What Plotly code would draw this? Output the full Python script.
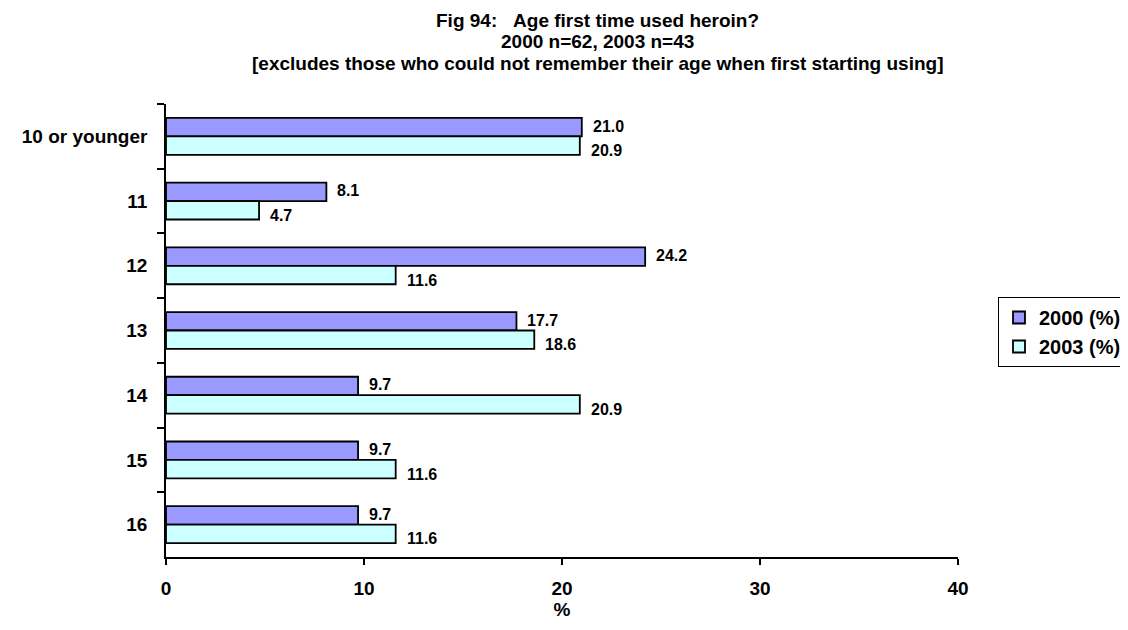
import plotly.graph_objects as go

categories = ["10 or younger", "11", "12", "13", "14", "15", "16"]
values_2000 = [21.0, 8.1, 24.2, 17.7, 9.7, 9.7, 9.7]
values_2003 = [20.9, 4.7, 11.6, 18.6, 20.9, 11.6, 11.6]
series_names = ["2000 (%)", "2003 (%)"]
title_lines = [
    "Fig 94:&nbsp;&nbsp;&nbsp;Age first time used heroin?",
    "2000 n=62, 2003 n=43",
    "[excludes those who could not remember their age when first starting using]",
]

FONT = "Liberation Sans, Arial, sans-serif"
colors = ["#9999FF", "#CCFFFF"]

# The page body has an 8px margin, so the figure is sized to fill the rest of the window.
W, H = 1120, 612

fig = go.Figure()
for name, vals, col in zip(series_names, [values_2000, values_2003], colors):
    fig.add_trace(go.Bar(
        y=categories, x=vals, name=name, orientation="h",
        marker=dict(color=col, line=dict(color="black", width=1.8)),
    ))

bargap = 0.43
half = (1 - bargap) / 4
annotations = []
for s, vals in enumerate([values_2000, values_2003]):
    off = -half if s == 0 else half
    ysh = 1 if s == 0 else -5
    for i, v in enumerate(vals):
        annotations.append(dict(
            x=v, y=i + off, xref="x", yref="y", text=f"{v:.1f}",
            showarrow=False, xanchor="left", yanchor="middle",
            xshift=9, yshift=ysh,
            font=dict(family=FONT, size=16, color="black", weight="bold"),
        ))

title_shifts = [84, 62.5, 41]
for line, ysh in zip(title_lines, title_shifts):
    annotations.append(dict(
        x=0.545, y=1, xref="paper", yref="paper", yanchor="middle", xanchor="center",
        yshift=ysh, showarrow=False,
        text=line,
        font=dict(family=FONT, size=19, color="black", weight="bold"),
    ))

fig.update_layout(
    width=W, height=H, autosize=False,
    margin=dict(l=158, r=170, t=96, b=63),
    paper_bgcolor="white", plot_bgcolor="white",
    barmode="group", bargap=bargap, bargroupgap=0,
    showlegend=True,
    legend=dict(
        xref="container", yref="container",
        x=1119 / W, xanchor="right", y=1 - 289 / H, yanchor="top",
        bordercolor="black", borderwidth=1, bgcolor="white",
        font=dict(family=FONT, size=20, color="black", weight="bold"),
        itemwidth=30, tracegroupgap=0,
    ),
    annotations=annotations,
    font=dict(family=FONT, color="black"),
)
fig.update_xaxes(
    range=[0, 40], dtick=10, showgrid=False, zeroline=False,
    showline=True, linecolor="black", linewidth=1.5,
    ticks="outside", ticklen=6, tickcolor="black", tickwidth=1.5,
    ticklabelstandoff=7, automargin=False,
    tickfont=dict(family=FONT, size=19, color="black", weight="bold"),
    title=dict(text="%", standoff=11,
               font=dict(family=FONT, size=19, color="black", weight="bold")),
)
fig.update_yaxes(
    autorange="reversed", showgrid=False, automargin=False,
    showline=True, linecolor="black", linewidth=1.5,
    ticks="outside", ticklen=7, tickcolor="black", tickwidth=1.5,
    tickson="boundaries", ticklabelstandoff=13,
    tickfont=dict(family=FONT, size=19, color="black", weight="bold"),
)

fig.write_html("out.html")
